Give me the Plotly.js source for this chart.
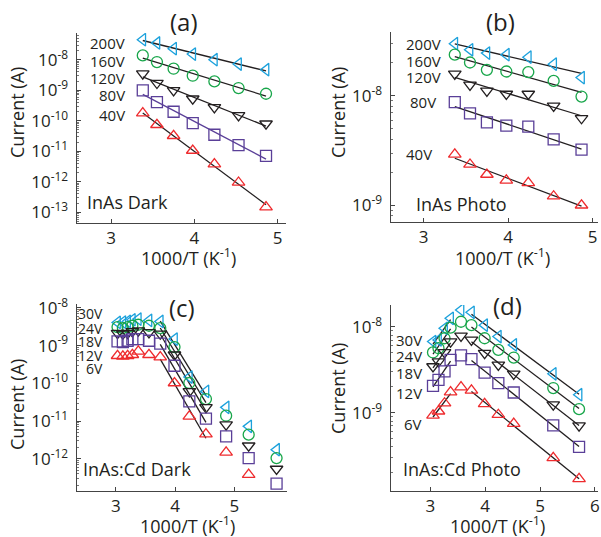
<!DOCTYPE html>
<html><head><meta charset="utf-8">
<script src="https://cdn.plot.ly/plotly-3.0.1.min.js"></script>
<style>html,body{margin:0;padding:0;background:#fff}#chart{width:601px;height:537px}</style>
</head><body><div id="chart"></div>
<script>
// ---------------- DATA ----------------
// x = 1000/T (K^-1), y = current (A)
const xA = [3.38, 3.55, 3.75, 3.98, 4.24, 4.53, 4.86];
const labelsAB = ['200V', '160V', '120V', '80V', '40V'];
const a200 = [4.53e-8, 3.53e-8, 2.30e-8, 1.53e-8, 1.00e-8, 7.21e-9, 4.70e-9];
const a160 = [1.38e-8, 8.38e-9, 5.07e-9, 2.99e-9, 1.95e-9, 1.18e-9, 7.67e-10];
const a120 = [3.48e-9, 1.72e-9, 9.89e-10, 5.26e-10, 2.74e-10, 1.50e-10, 7.98e-11];
const a80  = [9.89e-10, 4.09e-10, 1.97e-10, 8.38e-11, 3.48e-11, 1.59e-11, 7.11e-12];
const a40  = [1.78e-10, 7.40e-11, 3.22e-11, 1.06e-11, 3.79e-12, 9.51e-13, 1.48e-13];

const xB = [3.37, 3.55, 3.75, 3.98, 4.24, 4.54, 4.87];
const b200 = [3.00e-8, 2.64e-8, 2.46e-8, 2.38e-8, 2.26e-8, 1.95e-8, 1.47e-8];
const b160 = [2.38e-8, 2.02e-8, 1.73e-8, 1.67e-8, 1.65e-8, 1.37e-8, 9.86e-9];
const b120 = [1.59e-8, 1.26e-8, 1.11e-8, 1.04e-8, 1.04e-8, 8.09e-9, 6.24e-9];
const b80  = [8.75e-9, 6.93e-9, 5.73e-9, 5.35e-9, 5.24e-9, 4.00e-9, 3.22e-9];
const b40  = [2.92e-9, 2.36e-9, 1.91e-9, 1.69e-9, 1.60e-9, 1.21e-9, 1.00e-9];

const xC = [3.03, 3.12, 3.20, 3.28, 3.38, 3.56, 3.75, 3.99, 4.24, 4.52, 4.86, 5.24, 5.71];
const labelsCD = ['30V', '24V', '18V', '12V', '6V'];
const c30 = [4.09e-9, 4.18e-9, 4.35e-9, 4.82e-9, 5.01e-9, 4.62e-9, 4.35e-9, 1.48e-9, 1.47e-10, 6.12e-11, 2.31e-11, 7.26e-12, 1.75e-12];
const c24 = [3.08e-9, 2.90e-9, 3.08e-9, 3.34e-9, 3.55e-9, 3.34e-9, 2.90e-9, 9.10e-10, 1.02e-10, 3.84e-11, 1.39e-11, 4.37e-12, 1.05e-12];
const c18 = [2.14e-9, 2.05e-9, 2.14e-9, 2.37e-9, 2.47e-9, 2.22e-9, 2.05e-9, 5.71e-10, 6.12e-11, 2.31e-11, 8.04e-12, 2.23e-12, 5.40e-13];
const c12 = [1.29e-9, 1.24e-9, 1.34e-9, 1.48e-9, 1.48e-9, 1.34e-9, 1.12e-9, 2.92e-10, 3.33e-11, 1.16e-11, 3.94e-12, 1.05e-12, 2.21e-13];
const c6  = [5.37e-10, 5.16e-10, 5.37e-10, 5.71e-10, 7.00e-10, 5.71e-10, 4.95e-10, 1.02e-10, 1.33e-11, 4.55e-12, 1.49e-12, 3.82e-13, null];

const xD = [3.05, 3.15, 3.26, 3.37, 3.56, 3.75, 3.99, 4.24, 4.52, 5.24, 5.71];
const d30 = [6.75e-9, 7.06e-9, 9.64e-9, 1.26e-8, 1.58e-8, 1.48e-8, 1.05e-8, 7.73e-9, 6.18e-9, 2.84e-9, 1.62e-9];
const d24 = [5.04e-9, 5.65e-9, 7.38e-9, 9.82e-9, 1.15e-8, 1.05e-8, 7.38e-9, 5.41e-9, 4.40e-9, 1.94e-9, 1.10e-9];
const d18 = [3.46e-9, 3.95e-9, 5.04e-9, 6.75e-9, 7.85e-9, 7.06e-9, 4.94e-9, 3.61e-9, 2.84e-9, 1.24e-9, 7.06e-10];
const d12 = [2.06e-9, 2.42e-9, 3.03e-9, 4.13e-9, 4.65e-9, 4.21e-9, 2.94e-9, 2.21e-9, 1.72e-9, 7.13e-10, 3.99e-10];
const d6  = [9.31e-10, 1.04e-9, 1.29e-9, 1.74e-9, 1.99e-9, 1.82e-9, 1.27e-9, 9.48e-10, 7.45e-10, 2.97e-10, 1.69e-10];

// index ranges used for the Arrhenius fits
const fitAB = [[0, 6]];
const fitC = [[6, 9]];
const fitD = [[0, 3], [5, 10]];

const panelTitles = ['(a)', '(b)', '(c)', '(d)'];
const panelNotes = ['InAs Dark', 'InAs Photo', 'InAs:Cd Dark', 'InAs:Cd Photo'];
const xTitle = '1000/T (K<sup>-1</sup>)';
const yTitle = 'Current (A)';

// ---------------- STYLE ----------------
const W = 601, H = 537;
const FONT = '"Open Sans", Lato, Arial, sans-serif';
const TXT = '#231f20';
const colors = ['#1ba1dc', '#18a64a', '#231f20', '#5a3f98', '#ee2b2e'];
const symbols = ['triangle-left-open', 'circle-open', 'triangle-down-open', 'square-open', 'triangle-up-open'];

function fitLine(xs, ys, i0, i1) {
  let n = 0, sx = 0, sy = 0, sxx = 0, sxy = 0;
  for (let i = i0; i <= i1; i++) {
    if (ys[i] == null) continue;
    const lx = xs[i], ly = Math.log10(ys[i]);
    n++; sx += lx; sy += ly; sxx += lx * lx; sxy += lx * ly;
  }
  const m = (n * sxy - sx * sy) / (n * sxx - sx * sx);
  const b = (sy - m * sx) / n;
  return {x: [xs[i0], xs[i1]], y: [Math.pow(10, m * xs[i0] + b), Math.pow(10, m * xs[i1] + b)]};
}

const traces = [];
function addPanel(xs, series, fits, xa, ya, fitColors) {
  series.forEach((ys, k) => {
    fits.forEach(([i0, i1]) => {
      const f = fitLine(xs, ys, i0, i1);
      traces.push({x: f.x, y: f.y, xaxis: xa, yaxis: ya, mode: 'lines',
        line: {color: fitColors[k], width: 1.3}, showlegend: false, hoverinfo: 'skip'});
    });
  });
  series.forEach((ys, k) => {
    traces.push({x: xs, y: ys, xaxis: xa, yaxis: ya, mode: 'markers', showlegend: false,
      marker: {symbol: symbols[k], size: 11, color: colors[k], line: {color: colors[k], width: 1.3}}});
  });
}
const blk = '#231f20';
addPanel(xA, [a200, a160, a120, a80, a40], fitAB, 'x', 'y', [blk, blk, blk, '#5a3f98', blk]);
addPanel(xB, [b200, b160, b120, b80, b40], fitAB, 'x2', 'y2', [blk, blk, blk, blk, blk]);
addPanel(xC, [c30, c24, c18, c12, c6], fitC, 'x3', 'y3', [blk, blk, blk, blk, blk]);
addPanel(xD, [d30, d24, d18, d12, d6], fitD, 'x4', 'y4', [blk, blk, blk, blk, blk]);

function dom(p0, p1, total, flip) {
  return flip ? [1 - p1 / total, 1 - p0 / total] : [p0 / total, p1 / total];
}
function expTicks(lo, hi) {
  const v = [], t = [];
  for (let e = lo; e <= hi; e++) { v.push(Math.pow(10, e)); t.push('10<sup>' + e + '</sup>\u00a0'); }
  return {tickvals: v, ticktext: t};
}
const axBase = {
  showline: true, linecolor: '#444', linewidth: 1, ticks: 'inside', ticklen: 4, tickcolor: '#444',
  showgrid: false, zeroline: false, mirror: false,
  tickfont: {family: FONT, size: 17, color: TXT}
};
function xax(range, d, anchor, tv) {
  return Object.assign({}, axBase, {range: range, domain: d, anchor: anchor, tickmode: 'array', tickvals: tv,
    ticktext: tv.map(String)});
}
function yax(range, d, anchor, lo, hi) {
  const t = expTicks(lo, hi);
  return Object.assign({}, axBase, {type: 'log', range: range, domain: d, anchor: anchor, tickmode: 'array',
    tickvals: t.tickvals, ticktext: t.ticktext,
    minor: {ticks: 'inside', ticklen: 2, tickcolor: '#777', dtick: 'D1', showgrid: false}});
}

function ann(text, px, py, size, xanchor, angle) {
  return {text: text, xref: 'paper', yref: 'paper', x: px / W, y: 1 - py / H, showarrow: false,
    xanchor: xanchor || 'center', yanchor: 'middle', textangle: angle || 0, borderpad: 0,
    font: {family: FONT, size: size, color: TXT}};
}
const annotations = [
  ann(panelTitles[0], 184, 21, 24), ann(panelTitles[1], 500, 21, 24),
  ann(panelTitles[2], 182, 307, 24), ann(panelTitles[3], 507, 305, 24),
  ann(panelNotes[0], 86, 202, 18, 'left'), ann(panelNotes[1], 415, 204, 18, 'left'),
  ann(panelNotes[2], 82, 469, 18, 'left'), ann(panelNotes[3], 402, 469, 18, 'left'),
  // axis titles
  ann(yTitle, 17, 113, 18, 'center', -90), ann(yTitle, 338, 112, 18, 'center', -90),
  ann(yTitle, 17, 405, 18, 'center', -90), ann(yTitle, 338, 388, 18, 'center', -90),
  ann(xTitle, 188, 257, 18), ann(xTitle, 502, 257, 18),
  ann(xTitle, 187, 525, 18), ann(xTitle, 497, 525, 18)
];
const lblA = [[126, 43], [126, 61], [126, 78], [126, 95], [126, 115]];
const lblB = [[442, 44], [442, 61], [442, 77], [437, 102], [433, 154]];
const lblC = [[104, 313], [104, 328], [104, 341], [104, 355], [104, 368]];
const lblD = [[423, 340], [423, 356], [423, 373], [423, 393], [423, 424]];
labelsAB.forEach((t, i) => annotations.push(ann(t, lblA[i][0], lblA[i][1], 15, 'right')));
labelsAB.forEach((t, i) => annotations.push(ann(t, lblB[i][0], lblB[i][1], 15, 'right')));
labelsCD.forEach((t, i) => annotations.push(ann(t, lblC[i][0], lblC[i][1], 14, 'right')));
labelsCD.forEach((t, i) => annotations.push(ann(t, lblD[i][0], lblD[i][1], 15, 'right')));

const layout = {
  width: W, height: H, margin: {l: 0, r: 0, t: 0, b: 0},
  paper_bgcolor: '#fff', plot_bgcolor: 'rgba(0,0,0,0)', showlegend: false,
  font: {family: FONT, color: TXT},
  xaxis:  xax([2.59, 5.10], dom(77, 286, W), 'y', [3, 4, 5]),
  yaxis:  yax([-13.35, -7.125], dom(33, 223, H, true), 'x', -13, -8),
  xaxis2: xax([2.615, 5.065], dom(391, 598, W), 'y2', [3, 4, 5]),
  yaxis2: yax([-9.153, -7.416], dom(32, 222, H, true), 'x2', -9, -8),
  xaxis3: xax([2.347, 5.886], dom(77, 287, W), 'y3', [3, 4, 5]),
  yaxis3: yax([-12.85, -7.9], dom(304, 491, H, true), 'x3', -12, -8),
  xaxis4: xax([2.285, 6.055], dom(391, 598, W), 'y4', [3, 4, 5, 6]),
  yaxis4: yax([-9.913, -7.744], dom(305, 491, H, true), 'x4', -9, -8),
  annotations: annotations
};
Plotly.newPlot('chart', traces, layout, {staticPlot: true, displayModeBar: false});
</script></body></html>
